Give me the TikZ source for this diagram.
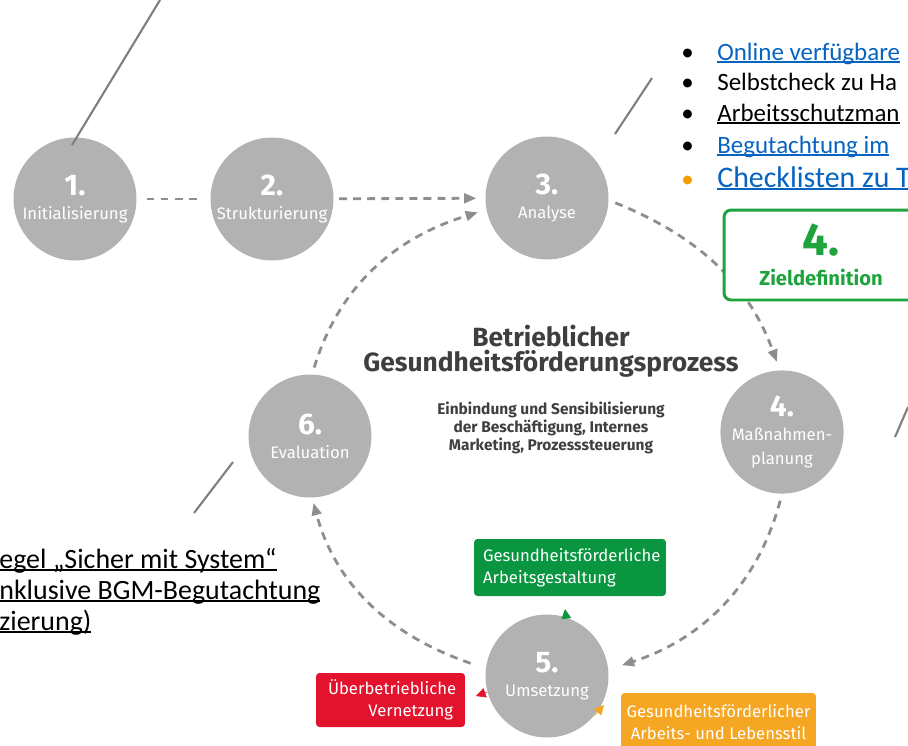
\documentclass[tikz,border=0pt]{standalone}
\usepackage{fontspec}
\setmainfont{Carlito}
\newfontfamily\ubu{Fira Sans}
\usetikzlibrary{arrows.meta}
\definecolor{kreis}{HTML}{B2B2B2}
\definecolor{pfeil}{HTML}{8E8E8E}
\definecolor{strich}{HTML}{7F7F7F}
\definecolor{titel}{HTML}{3F3F3F}
\definecolor{gruen}{HTML}{0A9640}
\definecolor{zielgruen}{HTML}{1FA33D}
\definecolor{rot}{HTML}{E3132E}
\definecolor{gelb}{HTML}{F5A623}
\definecolor{link}{HTML}{0563C1}
\definecolor{punkt}{HTML}{F59C00}
\newcommand\nr[1]{{\bfseries\fontsize{17}{17}\selectfont#1}}
\newcommand\unter[1]{\leavevmode\setbox0\hbox{#1}\rlap{\rule[-1.6pt]{\wd0}{0.8pt}}\box0}
\begin{document}
\begin{tikzpicture}[x=0.02cm,y=0.02cm,
    phase/.style={circle,fill=kreis,minimum size=2.46cm,inner sep=0pt,text=white,
      align=center,font=\ubu\fontsize{9.5}{13.5}\selectfont},
    flow/.style={pfeil,line width=1.6pt,dash pattern=on 4.5pt off 3.5pt,
      -{Triangle[length=7pt,width=5.5pt]},shorten <=4pt,shorten >=5pt},
    hint/.style={strich,line width=1.2pt},
    feld/.style={rounded corners=2pt,text=white,inner sep=0pt,
      font=\ubu\fontsize{9.5}{12.5}\selectfont},
    tip/.style={line width=0.3pt,-{Triangle[length=5.5pt,width=5.5pt]}},
    item/.style={anchor=base west,inner sep=0pt,font=\fontsize{14.2}{17}\selectfont},
    links/.style={anchor=base west,inner sep=0pt,font=\fontsize{15.9}{18}\selectfont}]
  \useasboundingbox (0,0) rectangle (908,-745);
  \clip (0,0) rectangle (908,-745);

  \node[phase] (c1) at (75,-199) {\nr{1.}\\Initialisierung};
  \node[phase] (c2) at (272,-199) {\nr{2.}\\Strukturierung};
  \node[phase] (c3) at (547,-198) {\nr{3.}\\Analyse};
  \node[phase] (c4) at (782,-432) {\nr{4.}\\Maßnahmen-\\planung};
  \node[phase] (c5) at (547,-676) {\nr{5.}\\Umsetzung};
  \node[phase] (c6) at (310,-436) {\nr{6.}\\Evaluation};

  \begin{scope}
    \draw[flow,-,shorten <=5.5pt] (c1) -- (c2);
    \draw[flow,shorten <=3pt] (c2) -- (c3);
    \draw[flow] (c6.88) to[out=73,in=197] (c3.191);
    \draw[flow] (c3.-2) to[out=-22,in=110] (c4.92);
    \draw[flow,shorten >=8pt] (c4.-90) to[out=-105,in=18] (c5.6);
    \draw[flow,shorten <=9pt,shorten >=3pt] (c5.173) to[out=161,in=-75] (c6.-88);
  \end{scope}

  \node[draw=zielgruen,line width=1.7pt,fill=white,rounded corners=4pt,
    minimum width=3.88cm,minimum height=1.8cm,inner sep=0pt,align=center,
    text=zielgruen,font=\ubu\bfseries\fontsize{11.5}{17}\selectfont] (z4) at (821,-255)
    {{\fontsize{26}{26}\selectfont 4.}\\Zieldefinition};

  \node[titel,align=center,font=\ubu\bfseries\fontsize{15}{14.5}\selectfont] (titel) at (551,-351)
    {Betrieblicher\\Gesundheitsförderungsprozess};
  \node[titel,align=center,font=\ubu\bfseries\fontsize{8.8}{8.9}\selectfont] (sub) at (551,-428)
    {Einbindung und Sensibilisierung\\der Beschäftigung, Internes\\Marketing, Prozesssteuerung};

  \node[feld,fill=gruen,minimum width=3.84cm,minimum height=1.14cm,text width=3.48cm,
    align=left] (gest) at (570,-567.5) {Gesundheitsförderliche\\Arbeitsgestaltung};
  \node[feld,fill=rot,minimum width=2.98cm,minimum height=1.08cm,text width=2.5cm,
    align=right] (netz) at (390.5,-700) {Überbetriebliche\\Vernetzung};
  \node[feld,fill=gelb,minimum width=3.9cm,minimum height=1.16cm,
    align=center] (stil) at (718.5,-722) {Gesundheitsförderlicher\\Arbeits- und Lebensstil};

  \coordinate (tg) at (565,-609);
  \coordinate (tr) at (476,-696);
  \coordinate (to) at (604,-705);
  \draw[tip,gruen] (c5.72) -- (tg);
  \draw[tip,rot] (c5.195) -- (tr);
  \draw[tip,gelb] (c5.-40) -- (to);

  \node[item] (p1) at (681,-60) {•};
  \node[item] (p2) at (681,-90) {•};
  \node[item] (p3) at (681,-121) {•};
  \node[item] (p4) at (681,-153) {•};
  \node[item,punkt] (p5) at (681,-187) {•};
  \node[item,link] (t1) at (717,-60) {\unter{Online verfügbare}};
  \node[item] (t2) at (717,-90) {Selbstcheck zu Ha};
  \node[item] (t3) at (717,-121) {\unter{Arbeitsschutzman}};
  \node[item,link] (t4) at (717,-153) {\unter{Begutachtung im}};
  \node[item,link,font=\fontsize{17}{20}\selectfont] (t5) at (717,-187) {\unter{Checklisten zu T}};

  \node[links] (s1) at (-1,-568) {\unter{egel „Sicher mit System“}};
  \node[links] (s2) at (-1,-599) {\unter{nklusive BGM-Begutachtung}};
  \node[links] (s3) at (-1,-630) {\unter{zierung)}};

  \coordinate (a1) at (160,0);
  \coordinate (a2) at (72,-145);
  \coordinate (b1) at (652,-78);
  \coordinate (b2) at (615,-134);
  \coordinate (d1) at (908,-407);
  \coordinate (d2) at (895,-437);
  \coordinate (e1) at (233,-462);
  \coordinate (e2) at (194,-513);
  \draw[hint] (a1) -- (a2);
  \draw[hint] (b1) -- (b2);
  \draw[hint] (d1) -- (d2);
  \draw[hint] (e1) -- (e2);
\end{tikzpicture}
\end{document}
